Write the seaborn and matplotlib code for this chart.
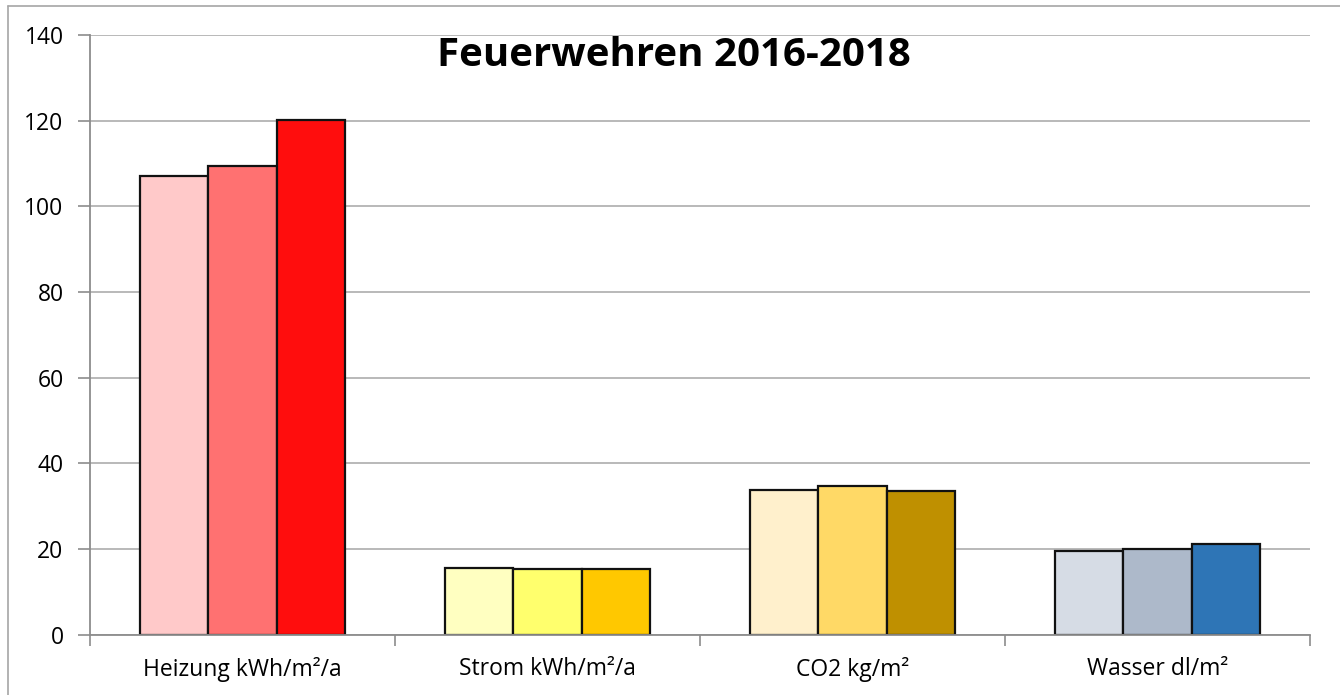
import matplotlib
matplotlib.use("Agg")
import matplotlib.pyplot as plt
import seaborn as sns
import pandas as pd
from matplotlib.lines import Line2D
from matplotlib.ticker import MultipleLocator, FixedLocator

categories = ["Heizung kWh/m²/a", "Strom kWh/m²/a", "CO2 kg/m²", "Wasser dl/m²"]
years = ["2016", "2017", "2018"]
values_2016 = [107.0, 15.6, 33.8, 19.4]
values_2017 = [109.5, 15.4, 34.7, 19.9]
values_2018 = [120.1, 15.2, 33.5, 21.1]
title = "Feuerwehren 2016-2018"

bar_colors = {
    "2016": ["#FFC9C9", "#FFFFC1", "#FFF0CC", "#D6DCE5"],
    "2017": ["#FF7171", "#FFFF6D", "#FFD966", "#ADB9CA"],
    "2018": ["#FF0D0D", "#FFC800", "#BF9000", "#2E75B6"],
}

rows = []
for yr, vals in zip(years, [values_2016, values_2017, values_2018]):
    for c, v in zip(categories, vals):
        rows.append({"Kategorie": c, "Jahr": yr, "Wert": v})
df = pd.DataFrame(rows)

sns.set_theme(style="white")
plt.rcParams["font.family"] = ["Open Sans", "DejaVu Sans"]

fig = plt.figure(figsize=(13.4, 6.95), dpi=100)
ax = fig.add_axes([90 / 1340, (695 - 634.5) / 695, 1220 / 1340, 599.5 / 695])

sns.barplot(data=df, x="Kategorie", y="Wert", hue="Jahr", order=categories,
            hue_order=years, ax=ax, width=0.67, legend=False,
            edgecolor="black", linewidth=1.6, saturation=1, errorbar=None)

for yr, cont in zip(years, ax.containers):
    for patch, col in zip(cont, bar_colors[yr]):
        patch.set_facecolor(col)
        patch.set_edgecolor("#111111")

ax.set_xlim(-0.5, len(categories) - 0.5)
ax.set_ylim(0, 140)
ax.yaxis.set_major_locator(MultipleLocator(20))
ax.grid(axis="y", color="#A6A6A6", linewidth=1.1)
ax.set_axisbelow(True)
for s in ["top", "right"]:
    ax.spines[s].set_visible(False)
for s in ["left", "bottom"]:
    ax.spines[s].set_color("#8C8C8C")
    ax.spines[s].set_linewidth(1.3)

ax.set_xlabel("")
ax.set_ylabel("")
ax.tick_params(axis="y", which="major", length=9, width=1.2, color="#8C8C8C",
               labelsize=16.5, pad=10, left=True)
ax.tick_params(axis="x", which="major", length=0, labelsize=16.5, pad=16)
ax.xaxis.set_minor_locator(FixedLocator([i - 0.5 for i in range(len(categories) + 1)]))
ax.tick_params(axis="x", which="minor", length=8, width=1.2, color="#8C8C8C", bottom=True)
for lbl in ax.get_xticklabels() + ax.get_yticklabels():
    lbl.set_color("black")

fig.text(674 / 1340, 1 - 56 / 695, title, ha="center", va="center",
         fontsize=29, fontweight="bold", color="black")

# chart area border (left and top edges)
fig.add_artist(Line2D([8 / 1340, 8 / 1340], [0, 1 - 6 / 695], transform=fig.transFigure,
                      color="#A6A6A6", linewidth=1.2))
fig.add_artist(Line2D([8 / 1340, 1], [1 - 6 / 695, 1 - 6 / 695], transform=fig.transFigure,
                      color="#A6A6A6", linewidth=1.2))

fig.savefig("out.png", dpi=100)
